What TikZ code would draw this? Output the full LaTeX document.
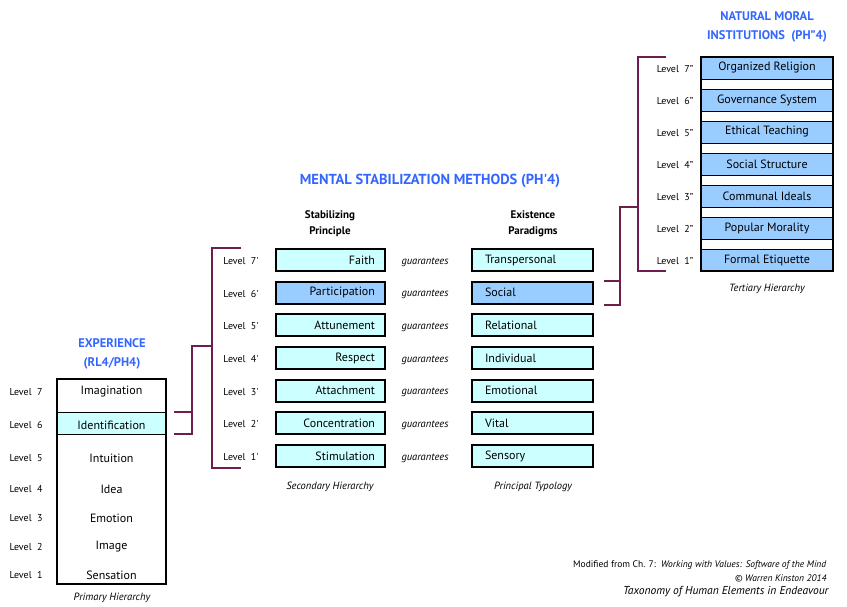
\documentclass[tikz,border=0pt]{standalone}
\usepackage{fontspec}
\setmainfont{PT Sans}
\definecolor{headblue}{HTML}{3366FF}
\definecolor{paleblue}{HTML}{CCFFFF}
\definecolor{midblue}{HTML}{99CCFF}
\definecolor{plum}{HTML}{6E1E4E}
\newcommand\pr{\textquotesingle}
\begin{document}
\begin{tikzpicture}[x=1pt,y=-1pt,font=\fontsize{12}{14}\selectfont,
  lvl/.style={font=\fontsize{10}{12}\selectfont},
  note/.style={font=\fontsize{10.5}{12}\selectfont\itshape},
  head/.style={font=\fontsize{11}{16}\selectfont\bfseries,align=center},
  title/.style={text=headblue,font=\fontsize{12.5}{19}\selectfont\bfseries,align=center},
  cell/.style={draw,line width=1.8pt,minimum height=22pt,inner ysep=0pt},
  bracket/.style={draw=plum,line width=2pt}]
\useasboundingbox (0,0) rectangle (847,607);

% primary hierarchy
\node[draw,fill=paleblue,line width=0.8pt,minimum width=109pt,minimum height=22pt] (ident) at (111.5,423) {};
\draw[line width=1.8pt] (57,379) rectangle (166,584);
\foreach \t/\n/\y in {Imagination/7/392,Identification/6/425,Intuition/5/458,Idea/4/489,Emotion/3/518,Image/2/547,Sensation/1/575}{
  \node (ph\n) at (111.5,\y) {\t};
  \node[lvl] at (26,\y) {Level\ \ \n};
}
\node[title] (exp) at (112,354) {EXPERIENCE\\(RL4/PH4)};
\node[note] at (112,598) {Primary Hierarchy};

% secondary hierarchy and typology
\node[title,font=\fontsize{14.5}{17}\selectfont\bfseries] at (430,181) {MENTAL STABILIZATION METHODS (PH\pr4)};
\node[head] at (330,224) {Stabilizing\\Principle};
\node[head] at (533,224) {Existence\\Paradigms};
\foreach \s/\e/\n/\c in {Faith/Transpersonal/7/paleblue,Participation/Social/6/midblue,Attunement/Relational/5/paleblue,Respect/Individual/4/paleblue,Attachment/Emotional/3/paleblue,Concentration/Vital/2/paleblue,Stimulation/Sensory/1/paleblue}{
  \node[cell,fill=\c,text width=89pt,inner xsep=10pt,align=right] (sp\n) at (330.5,{260+(7-\n)*32.67}) {\s};
  \node[cell,fill=\c,text width=95pt,inner xsep=13pt,align=left] (ep\n) at (532.5,{260+(7-\n)*32.67}) {\e};
  \node[lvl] at (241,{261+(7-\n)*32.67}) {Level\ \ \n\pr};
  \node[note] at (425,{262+(7-\n)*32.67}) {guarantees};
}
\node[note] at (330,487) {Secondary Hierarchy};
\node[note] at (533,487) {Principal Typology};

% tertiary hierarchy
\node[title] at (767,27) {NATURAL MORAL\\INSTITUTIONS\ \ (PH"4)};
\foreach \t/\n in {Organized Religion/7,Governance System/6,Ethical Teaching/5,Social Structure/4,Communal Ideals/3,Popular Morality/2,Formal Etiquette/1}{
  \node[draw,fill=midblue,line width=0.8pt,minimum width=132pt,minimum height=22pt,inner sep=0pt] (tt\n) at (767,{68+(7-\n)*32}) {\t};
  \node[lvl] at (675,{69+(7-\n)*32}) {Level\ \ \n"};
}
\draw[line width=1.8pt] (701,57) rectangle (833,271);
\node[note] at (767,289) {Tertiary Hierarchy};

% brackets
\coordinate (pj) at (192,346);
\coordinate (sb) at (212,346);
\coordinate (tj) at (620,207);
\coordinate (tb) at (638,207);
\draw[bracket] ([xshift=8pt]ident.north east) -- (pj |- ident.north east);
\draw[bracket] ([xshift=8pt]ident.south east) -| (pj) -- (sb);
\draw[bracket] ([xshift=-34pt]sp7.north west) -| (sb) |- ([xshift=-34pt]sp1.south west);
\draw[bracket] ([xshift=10pt]ep6.north east) -- (tj |- ep6.north east);
\draw[bracket] ([xshift=10pt]ep6.south east) -| (tj) -- (tb);
\draw[bracket] ([xshift=-35pt]tt7.north west) -| (tb) |- ([xshift=-35pt]tt1.south west);

% source
\node[anchor=east,font=\fontsize{9.5}{11}\selectfont] at (830,565) {Modified from Ch. 7:\ \ \textit{Working with Values: Software of the Mind}};
\node[anchor=east,font=\fontsize{9.5}{11}\selectfont\itshape] at (830,578) {© Warren Kinston 2014};
\node[anchor=east,font=\fontsize{11.5}{13}\selectfont\itshape] at (832,592) {Taxonomy of Human Elements in Endeavour};
\end{tikzpicture}
\end{document}
